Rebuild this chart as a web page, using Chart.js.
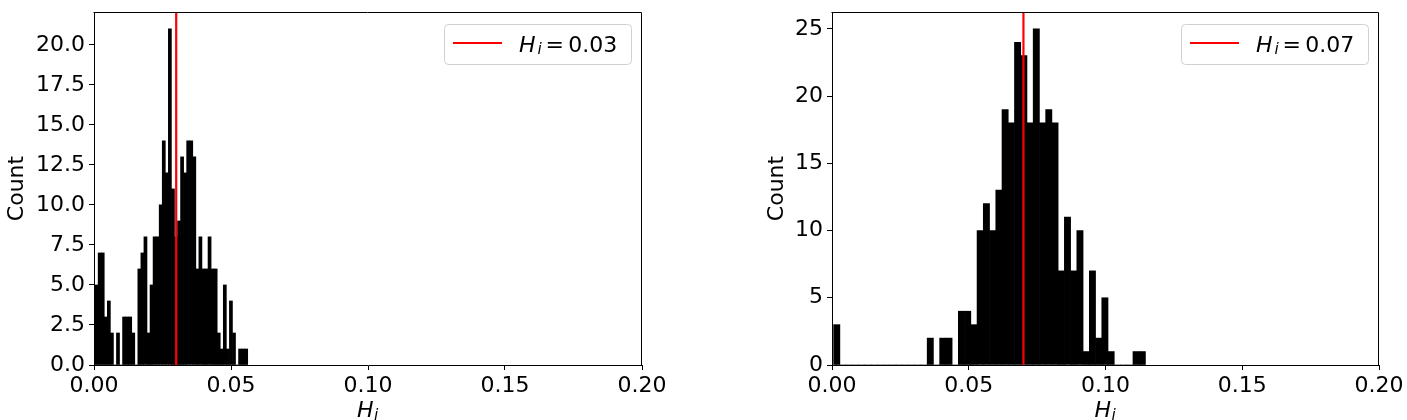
<!DOCTYPE html>
<html>
<head>
<meta charset="utf-8">
<script src="https://cdn.jsdelivr.net/npm/chart.js@4.4.1/dist/chart.umd.min.js"></script>
<style>
  html, body { margin: 0; padding: 0; background: #fff; }
  #wrap { position: relative; width: 1407px; height: 420px; overflow: hidden; background: #fff; }
  .pane { position: absolute; top: 0; height: 420px; }
  canvas { display: block; }
</style>
</head>
<body>
<div id="wrap">
  <div class="pane" style="left:0;width:700px"><canvas id="left" width="700" height="420"></canvas></div>
  <div class="pane" style="left:700px;width:707px"><canvas id="right" width="707" height="420"></canvas></div>
</div>
<script>
// ---------- data ----------
const X_TICKS = [0, 0.05, 0.10, 0.15, 0.20];
const X_RANGE = [0, 0.2];

// left histogram (50 bins)
const LEFT_COUNTS = [5,7,7,3,4,2,0,2,0,3,3,3,2,0,6,7,8,2,5,8,8,10,14,12,21,11,8,9,13,12,14,14,13,6,8,6,6,8,6,6,2,1,5,1,4,2,0,1,1,1];
const LEFT_BIN_RANGE = [0.0004, 0.0561];
const LEFT_HI = 0.03;
const LEFT_Y_TICKS = [0, 2.5, 5, 7.5, 10, 12.5, 15, 17.5, 20];
const LEFT_Y_MAX = 22.05;

// right histogram (50 bins)
const RIGHT_COUNTS = [3,0,0,0,0,0,0,0,0,0,0,0,0,0,0,2,0,2,2,0,4,4,3,10,12,10,13,19,18,24,23,18,25,18,19,18,7,11,7,10,1,7,2,5,1,0,0,0,1,1];
const RIGHT_BIN_RANGE = [0.0006, 0.1146];
const RIGHT_HI = 0.07;
const RIGHT_Y_TICKS = [0, 5, 10, 15, 20, 25];
const RIGHT_Y_MAX = 26.25;

// ---------- helpers ----------
const FONT = '"DejaVu Sans", "Liberation Sans", sans-serif';
Chart.defaults.font.family = FONT;
Chart.defaults.font.size = 22;
Chart.defaults.color = '#000';

function histPoints(counts, range) {
  const w = (range[1] - range[0]) / counts.length;
  return counts.map((c, k) => ({ x: range[0] + w * (k + 0.5), y: c }));
}

const decorPlugin = {
  id: 'decor',
  afterDraw(chart) {
    const o = chart.options.plugins.decor;
    const { ctx, chartArea: a } = chart;
    ctx.save();
    // top & right spines
    ctx.strokeStyle = '#000';
    ctx.lineWidth = 1;
    ctx.beginPath();
    ctx.moveTo(Math.round(a.left) - 0.5, Math.round(a.top) + 0.5);
    ctx.lineTo(Math.round(a.right) - 0.5, Math.round(a.top) + 0.5);
    ctx.lineTo(Math.round(a.right) - 0.5, Math.round(a.bottom) + 0.5);
    ctx.stroke();

    // legend
    const bw = 187, bh = 40;
    const bx = a.right - 11 - bw, by = a.top + 12;
    ctx.beginPath();
    ctx.roundRect(bx + 0.5, by + 0.5, bw, bh, 4);
    ctx.fillStyle = 'rgba(255,255,255,0.8)';
    ctx.fill();
    ctx.strokeStyle = '#d0d0d0';
    ctx.lineWidth = 1;
    ctx.stroke();
    ctx.beginPath();
    ctx.moveTo(bx + 9, by + 19);
    ctx.lineTo(bx + 58, by + 19);
    ctx.strokeStyle = '#ff0000';
    ctx.lineWidth = 2.2;
    ctx.stroke();
    ctx.fillStyle = '#000';
    ctx.textBaseline = 'alphabetic';
    ctx.textAlign = 'left';
    const base = by + 27.5;
    ctx.font = 'italic 22px ' + FONT;
    ctx.fillText('H', bx + 75, base);
    ctx.font = 'italic 15.4px ' + FONT;
    ctx.fillText('i', bx + 93.5, base + 2.6);
    ctx.font = '22px ' + FONT;
    ctx.fillText('=', bx + 101.5, base);
    ctx.fillText(o.hi.toFixed(2), bx + 124.3, base);

    // x-axis title  H_i
    const cx = (a.left + a.right) / 2;
    ctx.font = 'italic 22px ' + FONT;
    const wH = ctx.measureText('H').width;
    ctx.fillText('H', cx - 11, 417);
    ctx.font = 'italic 15.4px ' + FONT;
    ctx.fillText('i', cx - 11 + wH + 0.5, 419.6);
    ctx.restore();
  }
};

function makeChart(id, counts, range, hi, yTicks, yMax, yDec, padL, yW, padR) {
  const ctx = document.getElementById(id).getContext('2d');
  return new Chart(ctx, {
    type: 'bar',
    data: {
      datasets: [
        {
          type: 'bar',
          label: 'hist',
          data: histPoints(counts, range),
          backgroundColor: '#000',
          borderWidth: 0,
          barPercentage: 1.0,
          categoryPercentage: 1.0,
          order: 2
        },
        {
          type: 'line',
          label: 'Hi',
          data: [{ x: hi, y: 0 }, { x: hi, y: yMax }],
          borderColor: '#ff0000',
          borderWidth: 2.2,
          pointRadius: 0,
          fill: false,
          order: 1
        }
      ]
    },
    options: {
      responsive: false,
      animation: false,
      events: [],
      layout: { padding: { left: padL, right: padR, top: 12, bottom: 0 } },
      plugins: {
        legend: { display: false },
        tooltip: { enabled: false },
        decor: { hi: hi }
      },
      scales: {
        x: {
          type: 'linear',
          min: X_RANGE[0],
          max: X_RANGE[1],
          offset: false,
          grid: { display: true, drawOnChartArea: false, drawTicks: true, tickLength: 5, color: '#000', offset: false },
          border: { display: true, color: '#000', width: 1 },
          ticks: {
            autoSkip: false,
            maxRotation: 0,
            padding: 3,
            color: '#000',
            font: { size: 22 },
            callback: v => Number(v).toFixed(2)
          },
          afterBuildTicks: s => { s.ticks = X_TICKS.map(v => ({ value: v })); },
          afterFit: s => { s.height = 55; }
        },
        y: {
          type: 'linear',
          min: 0,
          max: yMax,
          grid: { display: true, drawOnChartArea: false, drawTicks: true, tickLength: 5, color: '#000' },
          border: { display: true, color: '#000', width: 1 },
          ticks: {
            autoSkip: false,
            includeBounds: false,
            padding: 4,
            color: '#000',
            font: { size: 22 },
            callback: v => Number(v).toFixed(yDec)
          },
          title: { display: true, text: 'Count', color: '#000', font: { size: 22 }, padding: { top: 4, bottom: 0 } },
          afterBuildTicks: s => { s.ticks = yTicks.map(v => ({ value: v })); },
          afterFit: s => { s.width = yW; s.paddingTop = 0; s.paddingBottom = 0; }
        }
      }
    },
    plugins: [decorPlugin]
  });
}

makeChart('left', LEFT_COUNTS, LEFT_BIN_RANGE, LEFT_HI, LEFT_Y_TICKS, LEFT_Y_MAX, 1, 0, 94, 58);
makeChart('right', RIGHT_COUNTS, RIGHT_BIN_RANGE, RIGHT_HI, RIGHT_Y_TICKS, RIGHT_Y_MAX, 0, 60, 72, 28);
</script>
</body>
</html>
